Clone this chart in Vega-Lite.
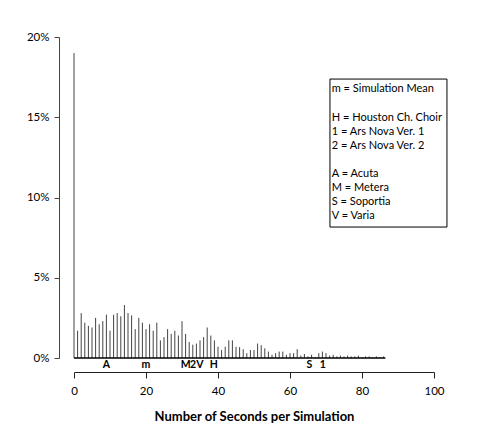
{
  "$schema": "https://vega.github.io/schema/vega-lite/v6.json",
  "width": 360,
  "height": 321,
  "autosize": {"type": "none"},
  "padding": {"left": 74, "top": 37, "right": 46, "bottom": 87},
  "background": "white",
  "config": {
    "view": {"stroke": null},
    "font": "Lato",
    "axis": {"grid": false, "labelFont": "Lato", "titleFont": "Lato", "labelColor": "#000", "titleColor": "#000"}
  },
  "datasets": {
    "hist": [
      {"sec": 0, "frac": 0.190}, {"sec": 1, "frac": 0.017}, {"sec": 2, "frac": 0.028}, {"sec": 3, "frac": 0.022},
      {"sec": 4, "frac": 0.020}, {"sec": 5, "frac": 0.019}, {"sec": 6, "frac": 0.025}, {"sec": 7, "frac": 0.021},
      {"sec": 8, "frac": 0.023}, {"sec": 9, "frac": 0.027}, {"sec": 10, "frac": 0.017}, {"sec": 11, "frac": 0.027},
      {"sec": 12, "frac": 0.028}, {"sec": 13, "frac": 0.026}, {"sec": 14, "frac": 0.033}, {"sec": 15, "frac": 0.028},
      {"sec": 16, "frac": 0.0265}, {"sec": 17, "frac": 0.018}, {"sec": 18, "frac": 0.025}, {"sec": 19, "frac": 0.022},
      {"sec": 20, "frac": 0.018}, {"sec": 21, "frac": 0.021}, {"sec": 22, "frac": 0.017}, {"sec": 23, "frac": 0.022},
      {"sec": 24, "frac": 0.011}, {"sec": 25, "frac": 0.013}, {"sec": 26, "frac": 0.018}, {"sec": 27, "frac": 0.015},
      {"sec": 28, "frac": 0.017}, {"sec": 29, "frac": 0.014}, {"sec": 30, "frac": 0.023}, {"sec": 31, "frac": 0.015},
      {"sec": 32, "frac": 0.010}, {"sec": 33, "frac": 0.0083}, {"sec": 34, "frac": 0.009}, {"sec": 35, "frac": 0.011},
      {"sec": 36, "frac": 0.013}, {"sec": 37, "frac": 0.019}, {"sec": 38, "frac": 0.014}, {"sec": 39, "frac": 0.011},
      {"sec": 40, "frac": 0.007}, {"sec": 41, "frac": 0.005}, {"sec": 42, "frac": 0.007}, {"sec": 43, "frac": 0.011},
      {"sec": 44, "frac": 0.011}, {"sec": 45, "frac": 0.007}, {"sec": 46, "frac": 0.0068}, {"sec": 47, "frac": 0.0055},
      {"sec": 48, "frac": 0.003}, {"sec": 49, "frac": 0.005}, {"sec": 50, "frac": 0.005}, {"sec": 51, "frac": 0.009},
      {"sec": 52, "frac": 0.008}, {"sec": 53, "frac": 0.006}, {"sec": 54, "frac": 0.004}, {"sec": 55, "frac": 0.002},
      {"sec": 56, "frac": 0.003}, {"sec": 57, "frac": 0.004}, {"sec": 58, "frac": 0.004}, {"sec": 59, "frac": 0.002},
      {"sec": 60, "frac": 0.003}, {"sec": 61, "frac": 0.003}, {"sec": 62, "frac": 0.0055}, {"sec": 63, "frac": 0.0015},
      {"sec": 64, "frac": 0.0025}, {"sec": 65, "frac": 0.001}, {"sec": 66, "frac": 0.002}, {"sec": 67, "frac": 0.0005},
      {"sec": 68, "frac": 0.003}, {"sec": 69, "frac": 0.004}, {"sec": 70, "frac": 0.003}, {"sec": 71, "frac": 0.0015},
      {"sec": 72, "frac": 0.002}, {"sec": 73, "frac": 0.001}, {"sec": 74, "frac": 0.0015}, {"sec": 75, "frac": 0.001},
      {"sec": 76, "frac": 0.0015}, {"sec": 77, "frac": 0.001}, {"sec": 78, "frac": 0.001}, {"sec": 79, "frac": 0.0015},
      {"sec": 80, "frac": 0.0005}, {"sec": 81, "frac": 0.001}, {"sec": 82, "frac": 0.001}, {"sec": 83, "frac": 0.0005},
      {"sec": 84, "frac": 0.001}, {"sec": 85, "frac": 0.0005}, {"sec": 86, "frac": 0.001}
    ],
    "marks": [
      {"label": "A", "sec": 9},
      {"label": "m", "sec": 20},
      {"label": "M", "sec": 31},
      {"label": "2", "sec": 33.1},
      {"label": "V", "sec": 35},
      {"label": "H", "sec": 38.8},
      {"label": "S", "sec": 65.4},
      {"label": "1", "sec": 69.1}
    ]
  },
  "layer": [
    {
      "data": {"name": "hist"},
      "mark": {"type": "rule", "color": "#444", "strokeWidth": 1},
      "encoding": {
        "x": {
          "field": "sec",
          "type": "quantitative",
          "scale": {"domain": [0, 100], "nice": false, "zero": false},
          "axis": {
            "title": "Number of Seconds per Simulation",
            "titleFontSize": 13,
            "titleFontWeight": "bold",
            "titlePadding": 14,
            "values": [0, 20, 40, 60, 80, 100],
            "offset": 14,
            "tickSize": 6,
            "labelPadding": 7,
            "labelFontSize": 11.5,
            "labelFlush": false,
            "domainColor": "#222",
            "tickColor": "#222"
          }
        },
        "y": {
          "field": "frac",
          "type": "quantitative",
          "scale": {"domain": [0, 0.2], "nice": false},
          "axis": {
            "title": null,
            "format": ".0%",
            "values": [0, 0.05, 0.1, 0.15, 0.2],
            "offset": 15,
            "tickSize": 5,
            "labelPadding": 5,
            "labelFontSize": 11.5,
            "labelFlush": false,
            "domainColor": "#444",
            "tickColor": "#444"
          }
        },
        "y2": {"datum": 0}
      }
    },
    {
      "data": {"values": [{}]},
      "mark": {"type": "rule", "color": "#000", "strokeWidth": 1.3},
      "encoding": {
        "x": {"datum": 0},
        "x2": {"datum": 86.5},
        "y": {"datum": 0}
      }
    },
    {
      "data": {"name": "marks"},
      "mark": {"type": "text", "fontWeight": "bold", "fontSize": 10.5, "baseline": "top", "dy": 2, "color": "#000"},
      "encoding": {
        "x": {"field": "sec", "type": "quantitative"},
        "y": {"datum": 0},
        "text": {"field": "label"}
      }
    },
    {
      "data": {"values": [{}]},
      "mark": {"type": "rect", "fill": "white", "stroke": "#000", "strokeWidth": 1},
      "encoding": {
        "x": {"datum": 71.1},
        "x2": {"datum": 103.6},
        "y": {"datum": 0.1738},
        "y2": {"datum": 0.0816}
      }
    },
    {
      "data": {"values": [{}]},
      "mark": {"type": "text", "align": "left", "baseline": "middle", "fontSize": 11, "color": "#000",
               "text": "m = Simulation Mean"},
      "encoding": {
        "x": {"datum": 71.6},
        "y": {"datum": 0.1678}
      }
    },
    {
      "data": {"values": [{}]},
      "mark": {"type": "text", "align": "left", "baseline": "top", "fontSize": 11, "lineHeight": 14.1, "color": "#000",
               "text": ["H = Houston Ch. Choir", "1 = Ars Nova Ver. 1", "2 = Ars Nova Ver. 2"]},
      "encoding": {
        "x": {"datum": 71.6},
        "y": {"datum": 0.1532}
      }
    },
    {
      "data": {"values": [{}]},
      "mark": {"type": "text", "align": "left", "baseline": "top", "fontSize": 11, "lineHeight": 14.1, "color": "#000",
               "text": ["A = Acuta", "M = Metera", "S = Soportia", "V = Varia"]},
      "encoding": {
        "x": {"datum": 71.6},
        "y": {"datum": 0.1183}
      }
    }
  ]
}
